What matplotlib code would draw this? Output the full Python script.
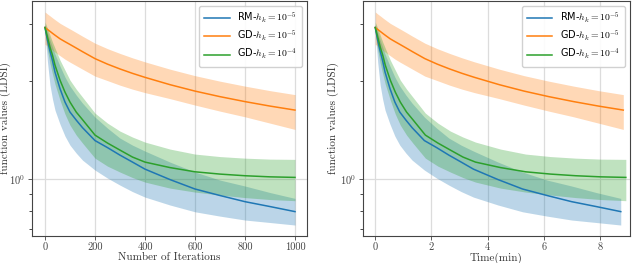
import matplotlib
matplotlib.use('Agg')
import matplotlib.pyplot as plt
from matplotlib.ticker import FixedLocator, NullFormatter, FuncFormatter

plt.rcParams['mathtext.fontset'] = 'cm'

# iteration grid shared by all runs
iters = [0, 10, 20, 30, 40, 60, 80, 100, 125, 150, 200, 250, 300, 350, 400,
         500, 600, 700, 800, 900, 1000]

# wall-clock time (min) at the same checkpoints
rm5_time = [0, 0.087, 0.175, 0.262, 0.349, 0.524, 0.698, 0.873, 1.091, 1.31, 1.746,
            2.183, 2.619, 3.056, 3.492, 4.365, 5.238, 6.111, 6.984, 7.857, 8.73]
gd5_time = [0, 0.088, 0.176, 0.265, 0.353, 0.529, 0.706, 0.882, 1.103, 1.323, 1.764,
            2.205, 2.646, 3.087, 3.528, 4.41, 5.292, 6.174, 7.056, 7.938, 8.82]
gd4_time = [0, 0.089, 0.178, 0.267, 0.356, 0.535, 0.713, 0.891, 1.114, 1.337, 1.782,
            2.228, 2.673, 3.119, 3.564, 4.455, 5.346, 6.237, 7.128, 8.019, 8.91]

# RM, h_k = 1e-5
rm5_mean = [2.929, 2.677, 2.476, 2.315, 2.134, 1.899, 1.726, 1.608, 1.519, 1.440, 1.314,
            1.250, 1.185, 1.128, 1.073, 0.9965, 0.932, 0.890, 0.852, 0.823, 0.794]
rm5_hi = [2.999, 2.833, 2.677, 2.548, 2.424, 2.227, 2.060, 1.933, 1.814, 1.713, 1.552,
          1.435, 1.337, 1.272, 1.2196, 1.128, 1.051, 0.993, 0.952, 0.909, 0.872]
rm5_lo = [2.833, 2.291, 1.946, 1.763, 1.630, 1.476, 1.356, 1.272, 1.202, 1.144, 1.066,
          1.007, 0.958, 0.915, 0.880, 0.832, 0.793, 0.769, 0.748, 0.735, 0.722]

# GD, h_k = 1e-5
gd5_mean = [2.929, 2.888, 2.850, 2.811, 2.774, 2.704, 2.649, 2.597, 2.532, 2.468, 2.349,
            2.259, 2.183, 2.116, 2.057, 1.953, 1.866, 1.794, 1.732, 1.678, 1.631]
gd5_hi = [3.270, 3.223, 3.181, 3.137, 3.096, 3.018, 2.957, 2.899, 2.826, 2.754, 2.621,
          2.521, 2.437, 2.362, 2.296, 2.180, 2.082, 2.002, 1.933, 1.872, 1.820]
gd5_lo = [2.603, 2.566, 2.530, 2.494, 2.459, 2.399, 2.340, 2.291, 2.235, 2.180, 2.075,
          2.010, 1.946, 1.892, 1.846, 1.769, 1.690, 1.619, 1.555, 1.487, 1.422]

# GD, h_k = 1e-4
gd4_mean = [2.929, 2.735, 2.548, 2.407, 2.243, 2.017, 1.852, 1.726, 1.608, 1.524, 1.366,
            1.291, 1.228, 1.169, 1.128, 1.085, 1.053, 1.036, 1.024, 1.016, 1.012]
gd4_hi = [3.042, 2.914, 2.774, 2.640, 2.530, 2.324, 2.165, 2.017, 1.892, 1.788, 1.596,
          1.487, 1.405, 1.347, 1.300, 1.237, 1.194, 1.173, 1.160, 1.152, 1.150]
gd4_lo = [2.833, 2.494, 2.274, 2.104, 1.961, 1.750, 1.585, 1.466, 1.366, 1.291, 1.160,
          1.096, 1.051, 1.011, 0.979, 0.938, 0.912, 0.893, 0.877, 0.865, 0.858]

labels = [r'RM-$h_k = 10^{-5}$', r'GD-$h_k = 10^{-5}$', r'GD-$h_k = 10^{-4}$']
colors = ['#1f77b4', '#ff7f0e', '#2ca02c']

fig = plt.figure(figsize=(6.4, 2.63), dpi=100)
ax1 = fig.add_axes([0.05, 0.1027, 0.4297, 0.8943])
ax2 = fig.add_axes([0.567, 0.1027, 0.417, 0.8943])

runs = [(rm5_mean, rm5_lo, rm5_hi), (gd5_mean, gd5_lo, gd5_hi), (gd4_mean, gd4_lo, gd4_hi)]
times = [rm5_time, gd5_time, gd4_time]


def style(ax, xlabel, ylab_x):
    ax.set_yscale('log')
    ax.set_ylim(0.668, 3.54)
    ax.yaxis.set_major_locator(FixedLocator([1.0]))
    ax.yaxis.set_major_formatter(FuncFormatter(lambda v, p: r'$10^0$'))
    ax.yaxis.set_minor_formatter(NullFormatter())
    ax.grid(True, which='major', color='#dcdcdc', lw=0.9)
    ax.set_axisbelow(True)
    for s in ax.spines.values():
        s.set_color('#444444')
        s.set_linewidth(0.8)
    ax.tick_params(colors='#444444', labelsize=7.5, length=3, width=0.6, pad=1.5)
    ax.tick_params(which='minor', length=2, width=0.5)
    for t in ax.get_xticklabels():
        t.set_fontfamily('cmr10')
    ax.set_xlabel(xlabel, fontfamily='cmr10', fontsize=8, color='#333333')
    ax.xaxis.set_label_coords(0.5, -0.07)
    ax.set_ylabel('function values (LDSI)', fontfamily='cmr10', fontsize=8,
                  color='#333333')
    ax.yaxis.set_label_coords(ylab_x, 0.5)
    ax.legend(loc='upper right', fontsize=7, framealpha=0.9, edgecolor='#cccccc',
              handlelength=2.6, borderpad=0.5, labelspacing=0.4)


for (mean, lo, hi), lab, c in zip(runs, labels, colors):
    ax1.fill_between(iters, lo, hi, color=c, alpha=0.3, lw=0)
    ax1.plot(iters, mean, color=c, lw=1.1, label=lab)
ax1.set_xticks([0, 200, 400, 600, 800, 1000])
ax1.set_xlim(-52, 1048)
style(ax1, 'Number of Iterations', -0.075)

for (mean, lo, hi), t, lab, c in zip(runs, times, labels, colors):
    ax2.fill_between(t, lo, hi, color=c, alpha=0.3, lw=0)
    ax2.plot(t, mean, color=c, lw=1.1, label=lab)
ax2.set_xticks([0, 2, 4, 6, 8])
ax2.set_xlim(-0.44, 9.05)
style(ax2, 'Time(min)', -0.09)

fig.savefig('out.png', dpi=100)
